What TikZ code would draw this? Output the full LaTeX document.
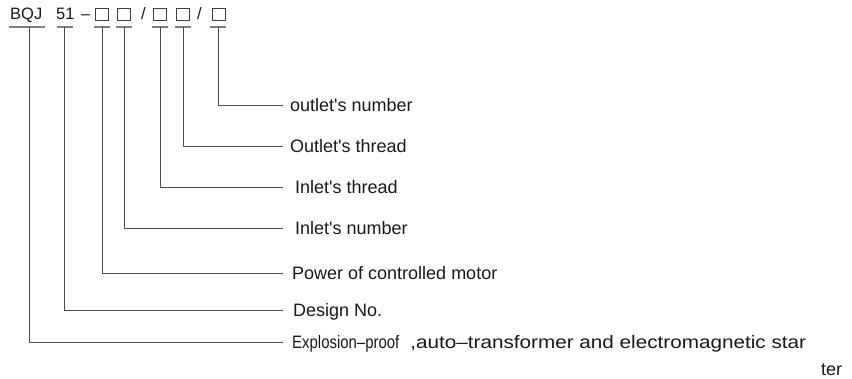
\documentclass[tikz,border=0pt]{standalone}
\usepackage{fontspec}
\setmainfont{Liberation Sans}
\usetikzlibrary{positioning}
\tikzset{
  code/.style={anchor=base west, inner sep=0pt, text=black!90, font=\fontsize{16.5}{18}\selectfont},
  cell/.style={draw=black!75, line width=0.6pt, minimum width=13pt, minimum height=12pt, inner sep=0pt},
  bar/.style={draw=black!50, line width=1.8pt},
  lead/.style={draw=black!70, line width=0.8pt},
  label/.style={anchor=base west, inner sep=0pt, text=black!90, font=\fontsize{18}{21}\selectfont}
}
\begin{document}
\begin{tikzpicture}[x=1pt,y=-1pt]
			\useasboundingbox (0,0) rectangle (852,378);
			
			%%%%% type code %%%%%
			\node[code] (bqj) at (10,19) {BQJ};
			\node[code] (design) at (56,19) {51};
			\node[code] (dash) at (81,19) {–};
			\node[cell] (box1) at (102,14) {};
			\node[cell] (box2) at (124,14) {};
			\node[code] (slash1) at (141,19) {/};
			\node[cell] (box3) at (160,14) {};
			\node[cell] (box4) at (183,14) {};
			\node[code] (slash2) at (197,19) {/};
			\node[cell] (box5) at (219,14) {};
			
			%%%%% underlines %%%%%
			\draw[bar] (9,27) -- (45,27);
			\draw[bar] (57,27) -- (73,27);
			\draw[bar] (94,27) -- (110,27);
			\draw[bar] (116,27) -- (132,27);
			\draw[bar] (152,27) -- (168,27);
			\draw[bar] (175,27) -- (191,27);
			\draw[bar] (210,27) -- (226,27);
			
			\coordinate (top1) at (29,27);
			\coordinate (top2) at (64,27);
			\coordinate (top3) at (102,27);
			\coordinate (top4) at (124,27);
			\coordinate (top5) at (160,27);
			\coordinate (top6) at (183,27);
			\coordinate (top7) at (218,27);
			
			%%%%% leader ends %%%%%
			\coordinate (end7) at (283,105);
			\coordinate (end6) at (283,146);
			\coordinate (end5) at (283,187);
			\coordinate (end4) at (283,228);
			\coordinate (end3) at (283,273);
			\coordinate (end2) at (283,310);
			\coordinate (end1) at (283,342);
			
			%%%%% labels %%%%%
			\node[label] (outnum) at (290,111) {outlet\textquotesingle s number};
			\node[label] (outthread) at (290,152) {Outlet\textquotesingle s thread};
			\node[label] (inthread) at (295,193) {Inlet\textquotesingle s thread};
			\node[label] (innum) at (295,234) {Inlet\textquotesingle s number};
			\node[label] (power) at (292,279) {Power of controlled motor};
			\node[label] (designno) at (293,316) {Design No.};
			\node[label] (starter) at (292,348) {\scalebox{0.83}[1]{Explosion–proof}\hspace{11pt}\scalebox{1.15}[1]{,auto–transformer and electromagnetic star}};
			\node[label] (starter2) at (821,375) {ter};
			
			%%%%% leaders %%%%%
			\draw[lead] (top7) |- (end7);
			\draw[lead] (top6) |- (end6);
			\draw[lead] (top5) |- (end5);
			\draw[lead] (top4) |- (end4);
			\draw[lead] (top3) |- (end3);
			\draw[lead] (top2) |- (end2);
			\draw[lead] (top1) |- (end1);
			
			%%%%% END %%%%%
\end{tikzpicture}
\end{document}
